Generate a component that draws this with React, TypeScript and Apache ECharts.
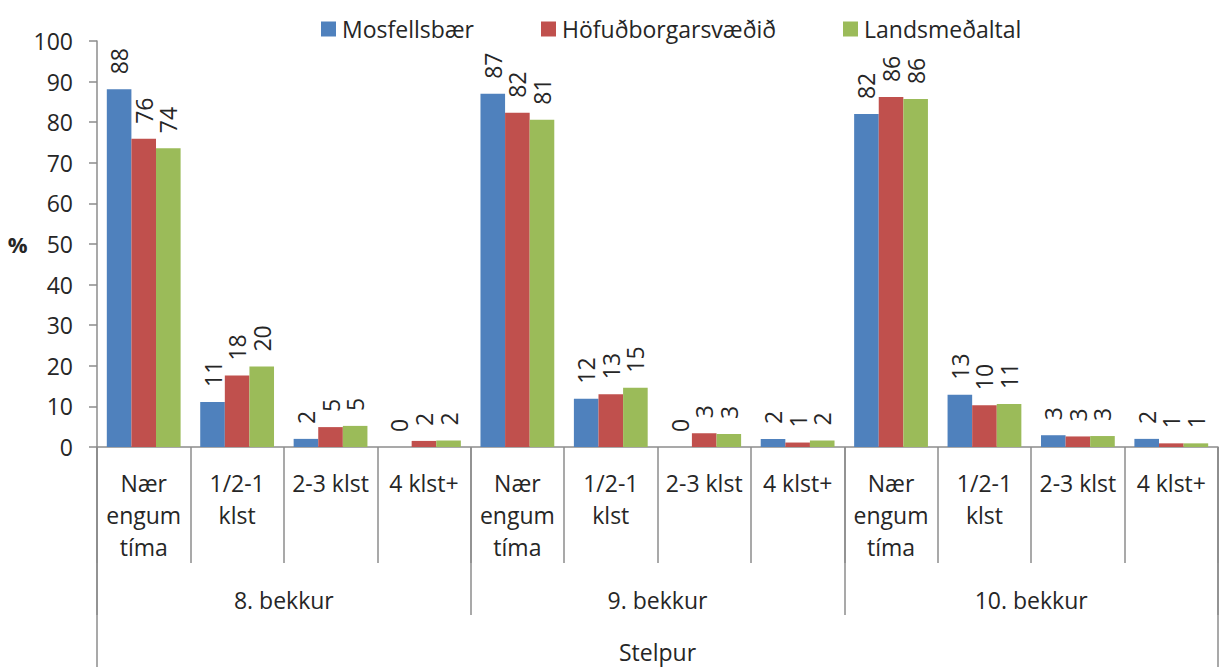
import React, { useEffect, useRef } from "react";
import * as echarts from "echarts";

const categories = [
  "Nær\nengum\ntíma", "1/2-1\nklst", "2-3 klst", "4 klst+",
  "Nær\nengum\ntíma", "1/2-1\nklst", "2-3 klst", "4 klst+",
  "Nær\nengum\ntíma", "1/2-1\nklst", "2-3 klst", "4 klst+",
];
const grades = ["8. bekkur", "9. bekkur", "10. bekkur"];
const groupTop = ["Stelpur"];
const seriesNames = ["Mosfellsbær", "Höfuðborgarsvæðið", "Landsmeðaltal"];
const mosfellsbaer = [88.1, 11.1, 2.0, 0, 87.0, 11.9, 0, 2.0, 82.0, 12.9, 2.9, 2.0];
const hofudborg = [75.9, 17.6, 4.9, 1.5, 82.3, 13.0, 3.4, 1.1, 86.2, 10.3, 2.6, 0.9];
const landsmedaltal = [73.6, 19.8, 5.2, 1.6, 80.6, 14.6, 3.2, 1.6, 85.7, 10.6, 2.7, 0.9];
const colors = ["#4F81BD", "#C0504D", "#9BBB59"];
const yTicks = { min: 0, max: 100, interval: 10 };

const FONT = "Open Sans";
const TXT = "#262626";
const AX = "#8c8c8c";

export default function App() {
  const ref = useRef<HTMLDivElement>(null);
  useEffect(() => {
    document.body.style.margin = "0";
    const chart = echarts.init(ref.current!, null, { renderer: "svg" });
    const data = [mosfellsbaer, hofudborg, landsmedaltal];
    const legendLefts = [316, 536, 838];
    chart.setOption({
      animation: false,
      textStyle: { fontFamily: FONT, color: TXT },
      legend: seriesNames.map((n, i) => ({
        data: [n],
        left: legendLefts[i],
        top: 12,
        icon: "rect",
        itemWidth: 15,
        itemHeight: 15,
        itemGap: 7,
        textStyle: { fontFamily: FONT, fontSize: 23, color: TXT, lineHeight: 24, padding: [0, 0, 0, 1] },
      })),
      grid: { left: 97, right: 1, top: 41, bottom: 216, containLabel: false },
      xAxis: [
        {
          type: "category",
          data: categories,
          position: "bottom",
          axisLine: { show: true, lineStyle: { color: AX, width: 1.5 } },
          axisTick: { show: true, interval: 0, length: 116, lineStyle: { color: AX, width: 1.5 } },
          axisLabel: { interval: 0, margin: 20, fontSize: 23, lineHeight: 32, color: TXT, fontFamily: FONT },
        },
        {
          type: "category",
          data: grades,
          position: "bottom",
          axisLine: { show: false },
          axisTick: { show: true, interval: 0, length: 168, lineStyle: { color: AX, width: 1.5 } },
          axisLabel: { interval: 0, margin: 137, fontSize: 23, lineHeight: 32, color: TXT, fontFamily: FONT },
        },
        {
          type: "category",
          data: groupTop,
          position: "bottom",
          axisLine: { show: false },
          axisTick: { show: true, interval: 0, length: 220, lineStyle: { color: AX, width: 1.5 } },
          axisLabel: { interval: 0, margin: 189, fontSize: 23, lineHeight: 32, color: TXT, fontFamily: FONT },
        },
      ],
      yAxis: {
        type: "value",
        min: yTicks.min,
        max: yTicks.max,
        interval: yTicks.interval,
        name: "%",
        nameLocation: "middle",
        nameRotate: 0,
        nameGap: 65,
        nameTextStyle: { fontSize: 22, fontWeight: "bold", color: TXT, fontFamily: FONT },
        axisLine: { show: true, lineStyle: { color: AX, width: 1.5 } },
        axisTick: { show: true, length: 8, lineStyle: { color: AX, width: 1.5 } },
        splitLine: { show: false },
        axisLabel: { margin: 24, fontSize: 23, color: TXT, fontFamily: FONT },
      },
      series: seriesNames.map((n, i) => ({
        name: n,
        type: "bar",
        xAxisIndex: 0,
        data: data[i],
        barGap: "0%",
        barCategoryGap: "21%",
        itemStyle: { color: colors[i] },
        label: {
          show: true,
          position: "top",
          rotate: 90,
          align: "left",
          verticalAlign: "middle",
          distance: 15,
          fontSize: 23,
          color: TXT,
          fontFamily: FONT,
          formatter: (p: any) => String(Math.round(p.value)),
        },
      })),
    });
    return () => chart.dispose();
  }, []);
  return <div ref={ref} style={{ width: 1219, height: 668 }} />;
}
